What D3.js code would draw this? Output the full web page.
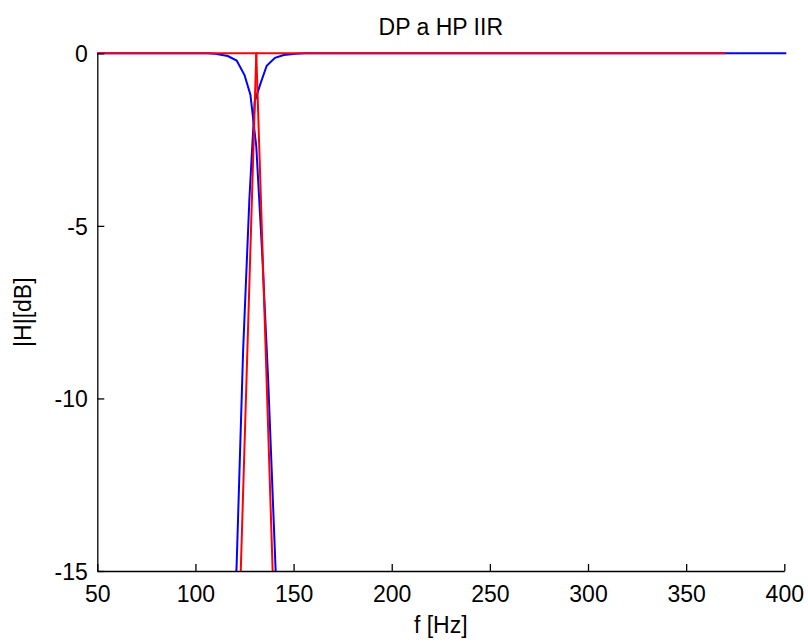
<!DOCTYPE html>
<html lang="en">
<head>
    <meta charset="UTF-8">
    <title>DP a HP IIR</title>
    <script src="https://d3js.org/d3.v7.min.js"></script>
    <style>
        body {
            margin: 0;
            background-color: white;
        }
        text {
            font-family: 'Liberation Sans', Arial, sans-serif;
            font-size: 23px;
            fill: #000;
        }
    </style>
</head>
<body>
    <div id="chart"></div>

  <script>
    // Blue: IIR low-pass (DP) and high-pass (HP), [f Hz, |H| dB]
    const blueLowPass = [
      [50, 0], [106, 0], [110, -0.01], [116.5, -0.08], [121, -0.21], [125, -0.63],
      [128, -1.2], [131, -2.7], [134, -5.8], [137, -9.4], [141, -15.2], [145, -21]
    ];
    const blueHighPass = [
      [113, -27], [117, -20.5], [121, -14.8], [124.3, -8.6], [127.5, -4.2], [130.2, -1.4],
      [133, -0.9], [136.3, -0.36], [140.5, -0.13], [145, -0.05], [151, -0.01], [156, 0], [401, 0]
    ];
    // Red: the steep pair
    const redLowPass = [[50, 0], [131, 0], [141, -18]];
    const redHighPass = [[121.5, -18], [131, 0], [370, 0]];

    const xTicks = [50, 100, 150, 200, 250, 300, 350, 400];
    const yTicks = [0, -5, -10, -15];

    const margin = { top: 53.3, right: 23.7, bottom: 71, left: 97.3 };
    const width = 808 - margin.left - margin.right;
    const height = 642 - margin.top - margin.bottom;

    const svg = d3.select("#chart")
      .append("svg")
      .attr("width", 808)
      .attr("height", 642);

    const g = svg.append("g")
      .attr("transform", `translate(${margin.left},${margin.top})`);

    const xScale = d3.scaleLinear().domain([50, 400]).range([0, width]);
    const yScale = d3.scaleLinear().domain([-15, 0]).range([height, 0]);

    // clip lines to the plot area (vertically)
    svg.append("defs").append("clipPath")
      .attr("id", "plot-clip")
      .append("rect")
      .attr("x", -5)
      .attr("y", -2)
      .attr("width", width + 10)
      .attr("height", height + 2);

    const line = d3.line()
      .x(d => xScale(d[0]))
      .y(d => yScale(d[1]));

    const lines = g.append("g").attr("clip-path", "url(#plot-clip)");

    [[blueLowPass, "#0000ff"], [blueHighPass, "#0000ff"],
     [redLowPass, "#ff0000"], [redHighPass, "#ff0000"]].forEach(([data, color]) => {
      lines.append("path")
        .datum(data)
        .attr("fill", "none")
        .attr("stroke", color)
        .attr("stroke-width", 2)
        .attr("d", line);
    });

    // Axes (MATLAB style: ticks pointing inward, no box)
    const xAxis = d3.axisBottom(xScale)
      .tickValues(xTicks)
      .tickSizeInner(-7)
      .tickSizeOuter(0)
      .tickPadding(0);

    const yAxis = d3.axisLeft(yScale)
      .tickValues(yTicks)
      .tickSizeInner(-7)
      .tickSizeOuter(0);

    const gx = g.append("g")
      .attr("transform", `translate(0,${height})`)
      .call(xAxis);
    gx.selectAll("text").remove();
    gx.selectAll(".tick").append("text")
      .attr("y", 31)
      .attr("text-anchor", "middle")
      .text(d => d);

    const gy = g.append("g").call(yAxis);
    gy.selectAll("text").remove();
    gy.selectAll(".tick").append("text")
      .attr("x", -9.5)
      .attr("dy", "0.36em")
      .attr("text-anchor", "end")
      .text(d => d);

    [gx, gy].forEach(a => {
      a.selectAll("line, path").attr("stroke", "#000").attr("stroke-width", 1.3);
      a.attr("font-size", null).attr("font-family", null);
    });

    // Title and labels
    svg.append("text")
      .attr("x", margin.left + width / 2)
      .attr("y", 35)
      .attr("text-anchor", "middle")
      .text("DP a HP IIR");

    svg.append("text")
      .attr("x", margin.left + width / 2)
      .attr("y", 633)
      .attr("text-anchor", "middle")
      .text("f [Hz]");

    svg.append("text")
      .attr("text-anchor", "middle")
      .attr("transform", `translate(31,${margin.top + height / 2}) rotate(-90)`)
      .text("|H|[dB]");
  </script>
</body>
</html>
